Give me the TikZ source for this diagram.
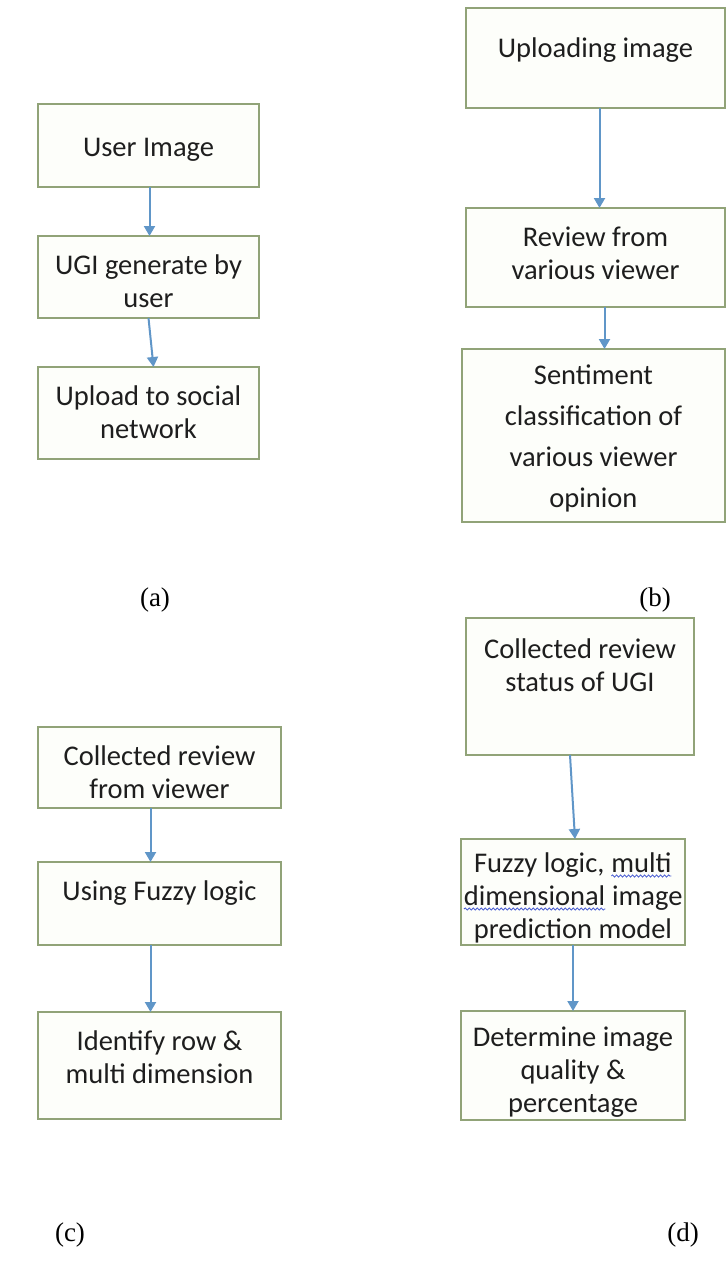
\documentclass[tikz,border=0pt]{standalone}
\usepackage{fontspec}
\setmainfont{Carlito}
\newfontfamily\capfont{Liberation Serif}
\usetikzlibrary{arrows.meta,calc,decorations.pathmorphing}
\definecolor{boxline}{RGB}{145,163,120}
\definecolor{boxfill}{RGB}{253,254,250}
\definecolor{arrowblue}{RGB}{96,150,200}
\definecolor{textcol}{RGB}{30,30,30}
\definecolor{squigcol}{RGB}{70,90,210}
\newcommand{\bxt}[4][38pt]{\parbox[c][#3][t]{#2}{\centering\fontsize{28.5}{33}\selectfont\rule{0pt}{#1}#4}}
\newcommand{\squig}[1]{\tikz[baseline=(sq.base)]{\node[inner sep=0pt,outer sep=0pt,draw=none,fill=none,anchor=base,text=textcol] (sq) {#1};\draw[draw=squigcol,line width=0.8pt,decorate,decoration={snake,amplitude=1.1pt,segment length=4pt}] ([yshift=-4pt]sq.base west) -- ([yshift=-4pt]sq.base east);}}
\tikzset{
  box/.style={draw=boxline, line width=1.7pt, fill=boxfill, inner sep=0pt, outer sep=0pt, anchor=north west, text=textcol},
  arr/.style={draw=arrowblue, line width=2pt, -{Triangle[width=11pt,length=10pt]}},
  lab/.style={font=\capfont\fontsize{27}{30}\selectfont, text=black, inner sep=0pt}
}
\begin{document}
\begin{tikzpicture}[x=1pt,y=-1pt]
\fill[white] (0,0) rectangle (727,1267);
\useasboundingbox (0,0) rectangle (727,1267);
% panel (a)
\node[box] (a1) at (38,104) {\bxt[52pt]{221pt}{83pt}{User Image}};
\node[box] (a2) at (38,236) {\bxt{221pt}{82pt}{UGI generate by\\user}};
\node[box] (a3) at (38,367) {\bxt{221pt}{92pt}{Upload to social\\network}};
\draw[arr] ([xshift=1pt]a1.south) -- ([xshift=1pt]a2.north);
\draw[arr] ([xshift=0pt]a2.south) -- ([xshift=5pt]a3.north);
% panel (b)
\node[box] (b1) at (466,8) {\bxt[49pt]{259pt}{100pt}{Uploading image}};
\node[box] (b2) at (466,208) {\bxt{259pt}{99pt}{Review from\\various viewer}};
\node[box] (b3) at (462,349) {\bxt[35pt]{263pt}{173pt}{Sentiment\\[8pt]classification of\\[8pt]various viewer\\[8pt]opinion}};
\draw[arr] ([xshift=4pt]b1.south) -- ([xshift=4pt]b2.north);
\draw[arr] ([xshift=9pt]b2.south) -- ([xshift=11pt]b3.north);
% panel (c)
\node[box] (c1) at (38,727) {\bxt{243pt}{81pt}{Collected review\\from viewer}};
\node[box] (c2) at (38,862) {\bxt{243pt}{83pt}{Using Fuzzy logic}};
\node[box] (c3) at (38,1012) {\bxt{243pt}{107pt}{Identify row \&\\multi dimension}};
\draw[arr] ([xshift=-9pt]c1.south) -- ([xshift=-9pt]c2.north);
\draw[arr] ([xshift=-9pt]c2.south) -- ([xshift=-9pt]c3.north);
% panel (d)
\node[box] (d1) at (466,618) {\bxt[40pt]{228pt}{137pt}{Collected review\\status of UGI}};
\node[box] (d2) at (461,839) {\bxt[33pt]{224pt}{106pt}{Fuzzy logic, \squig{multi}\\\squig{dimensional} image\\prediction model}};
\node[box] (d3) at (461,1011) {\bxt[35pt]{224pt}{109pt}{Determine image\\quality \&\\percentage}};
\draw[arr] ([xshift=-10pt]d1.south) -- ([xshift=2pt]d2.north);
\draw[arr] ([xshift=0pt]d2.south) -- ([xshift=0pt]d3.north);
% captions
\node[lab] (la) at (155,600) {(a)};
\node[lab] (lb) at (655,600) {(b)};
\node[lab] (lc) at (70,1235) {(c)};
\node[lab] (ld) at (683,1235) {(d)};
\end{tikzpicture}
\end{document}
